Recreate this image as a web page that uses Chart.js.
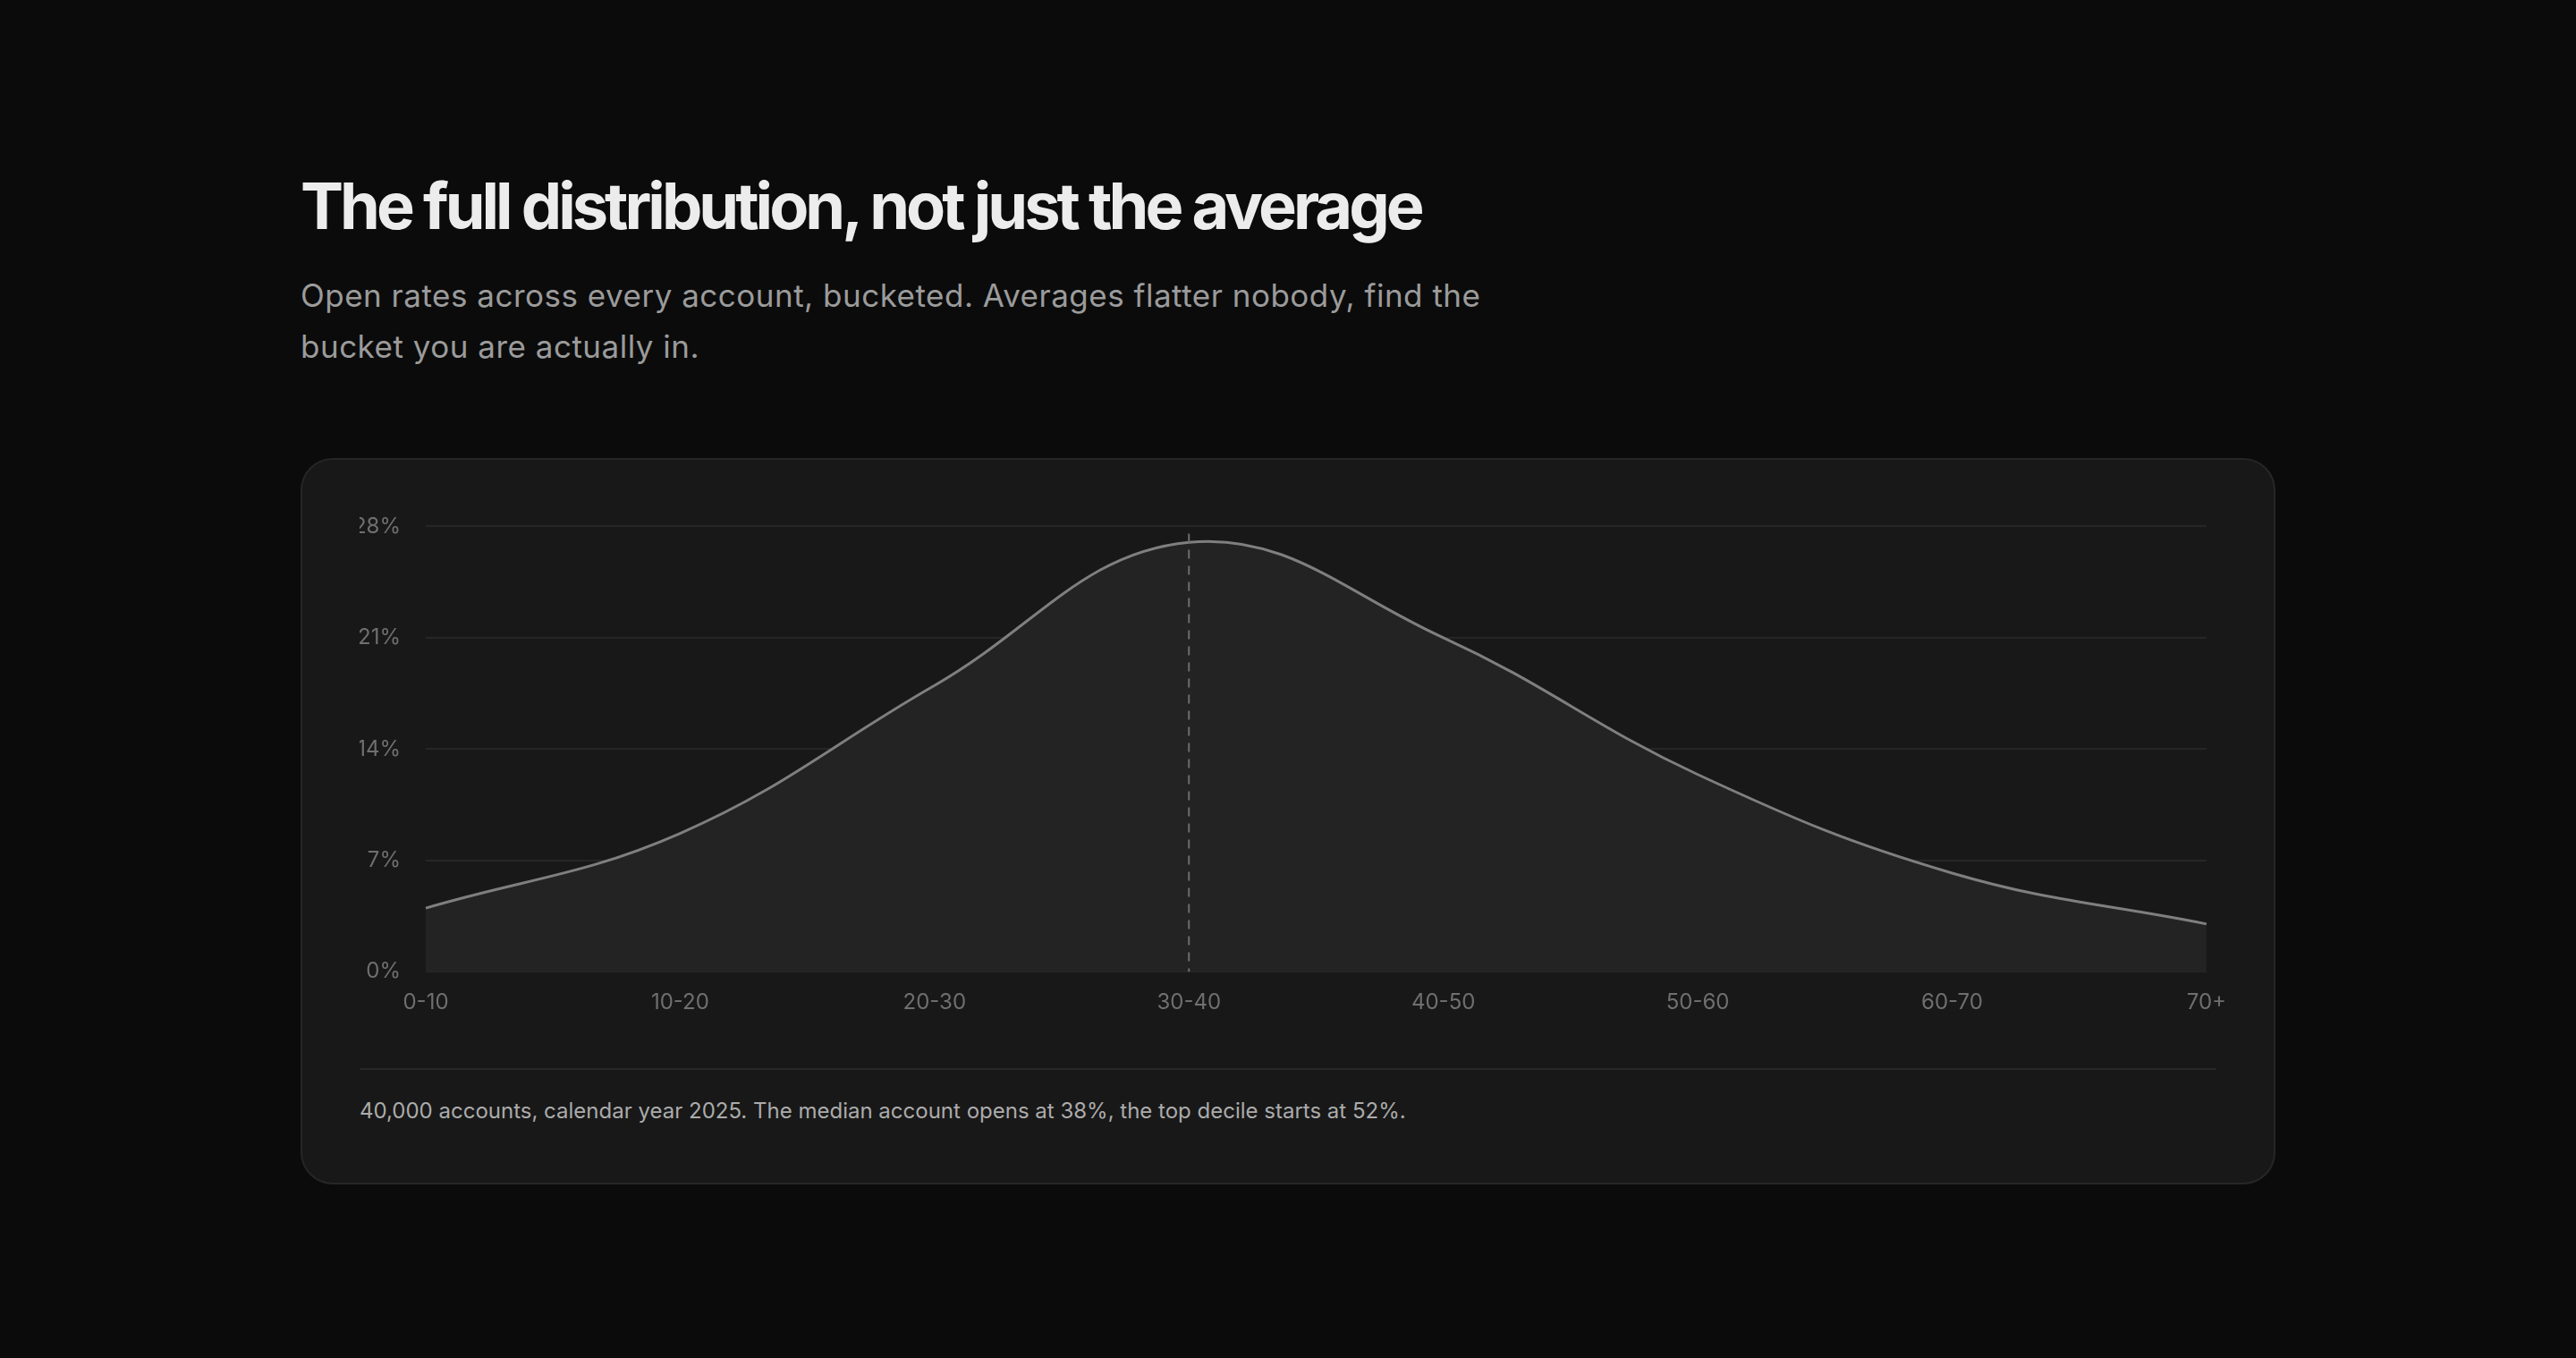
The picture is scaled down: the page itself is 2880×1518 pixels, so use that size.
<!DOCTYPE html>
<html>
<head>
<meta charset="utf-8">
<title>Open rate distribution</title>
<script src="https://cdn.jsdelivr.net/npm/chart.js@4.4.1/dist/chart.umd.min.js"></script>
<style>
  html, body { margin: 0; padding: 0; background: #0b0b0b; }
  body { font-family: Inter, "Noto Sans", sans-serif; }
  .wrap { width: 2208px; margin: 0 auto; padding-top: 190px; }
  h1 {
    margin: 0;
    font-size: 72px;
    line-height: 1.1;
    font-weight: 700;
    letter-spacing: -0.055em;
    color: #ececec;
  }
  .lede {
    margin: 33px 0 0 0;
    font-size: 35px;
    line-height: 57px;
    letter-spacing: 0.5px;
    color: #9b9b9b;
    white-space: nowrap;
  }
  .card {
    box-sizing: border-box;
    margin-top: 96px;
    height: 812px;
    background: #181818;
    border: 2px solid #262626;
    border-radius: 36px;
    padding: 32px 64px 0 64px;
  }
  .chart_box { position: relative; height: 609px; margin-right: -31px; }
  .rule { height: 2px; background: #282828; margin-top: 39px; }
  .note {
    margin: 28px 0 0 0;
    font-size: 24px;
    line-height: 36px;
    color: #ababab;
  }
</style>
</head>
<body>
<div class="wrap">
  <h1>The full distribution, not just the average</h1>
  <p class="lede">Open rates across every account, bucketed. Averages flatter nobody, find the<br>bucket you are actually in.</p>
  <div class="card">
    <div class="chart_box"><canvas id="dist_chart"></canvas></div>
    <div class="rule"></div>
    <p class="note">40,000 accounts, calendar year 2025. The median account opens at 38%, the top decile starts at 52%.</p>
  </div>
</div>
<script>
// open-rate buckets (%) and share of accounts in each (%)
const buckets = ["0-10", "10-20", "20-30", "30-40", "40-50", "50-60", "60-70", "70+"];
const share = [4.0, 8.7, 18.0, 27.0, 21.0, 12.4, 6.2, 3.0];
const y_ticks = [0, 7, 14, 21, 28];
const median_bucket = "30-40";

const tick_color = "#6f6f6f";
const grid_color = "#262626";

// dashed marker on the median bucket
const median_line = {
  id: "median_line",
  afterDatasetsDraw(chart) {
    const ctx = chart.ctx;
    const area = chart.chartArea;
    const x = chart.scales.x.getPixelForValue(buckets.indexOf(median_bucket));
    ctx.save();
    ctx.strokeStyle = "#6c6c6c";
    ctx.lineWidth = 2;
    ctx.setLineDash([10, 8]);
    ctx.beginPath();
    ctx.moveTo(x, area.top + 8);
    ctx.lineTo(x, area.bottom);
    ctx.stroke();
    ctx.restore();
  }
};

const dist_chart = new Chart(document.getElementById("dist_chart"), {
  type: "line",
  data: {
    labels: buckets,
    datasets: [{
      label: "Accounts",
      data: share,
      borderColor: "#7f7f7f",
      borderWidth: 3,
      backgroundColor: "#232323",
      fill: "origin",
      tension: 0.4,
      pointRadius: 0,
      pointHoverRadius: 0
    }]
  },
  options: {
    responsive: true,
    maintainAspectRatio: false,
    animation: false,
    plugins: {
      legend: { display: false },
      tooltip: { enabled: false }
    },
    scales: {
      x: {
        offset: false,
        grid: { display: false, drawTicks: false },
        border: { display: false },
        ticks: {
          color: tick_color,
          font: { family: "Inter", size: 24 },
          padding: 20,
          maxRotation: 0,
          autoSkip: false
        }
      },
      y: {
        min: 0,
        max: 28,
        afterBuildTicks(scale) {
          scale.ticks = y_ticks.map(v => ({ value: v }));
        },
        afterFit(scale) {
          scale.width = 74;
        },
        grid: { color: grid_color, lineWidth: 2, drawTicks: false },
        border: { display: false },
        ticks: {
          color: tick_color,
          font: { family: "Inter", size: 24 },
          padding: 28,
          callback: v => v + "%"
        }
      }
    }
  },
  plugins: [median_line]
});
</script>
</body>
</html>
